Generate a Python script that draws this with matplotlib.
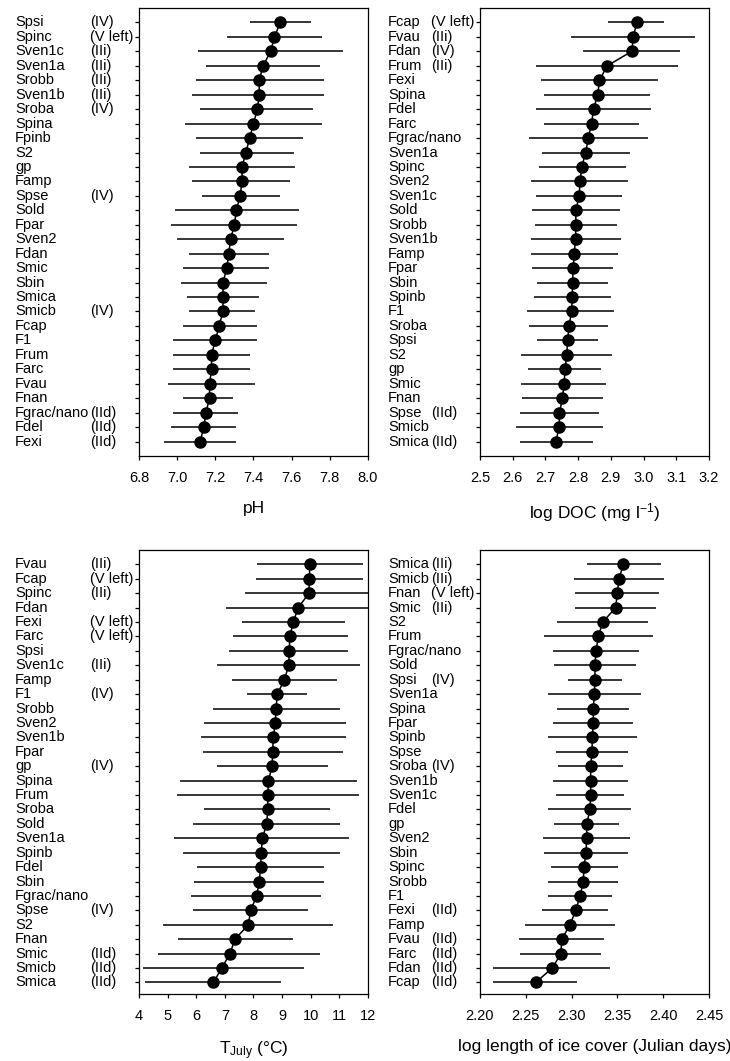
import matplotlib
matplotlib.use("Agg")
import matplotlib.pyplot as plt
import matplotlib.transforms as mtransforms
import numpy as np

plt.rcParams["font.family"] = ["Liberation Sans", "DejaVu Sans"]
plt.rcParams["mathtext.fontset"] = "custom"
plt.rcParams["mathtext.rm"] = "Liberation Sans"
plt.rcParams["mathtext.it"] = "Liberation Sans:italic"

# --- pH (top left), rows listed top to bottom ---
ph_names = ["Spsi", "Spinc", "Sven1c", "Sven1a", "Srobb", "Sven1b", "Sroba", "Spina",
            "Fpinb", "S2", "gp", "Famp", "Spse", "Sold", "Fpar", "Sven2", "Fdan", "Smic",
            "Sbin", "Smica", "Smicb", "Fcap", "F1", "Frum", "Farc", "Fvau", "Fnan",
            "Fgrac/nano", "Fdel", "Fexi"]
ph_groups = ["(IV)", "(V left)", "(IIi)", "(IIi)", "(IIi)", "(IIi)", "(IV)", "",
             "", "", "", "", "(IV)", "", "", "", "", "",
             "", "", "(IV)", "", "", "", "", "", "",
             "(IId)", "(IId)", "(IId)"]
ph_mean = [7.54, 7.51, 7.49, 7.45, 7.43, 7.43, 7.42, 7.40, 7.38, 7.36, 7.34, 7.34,
           7.33, 7.31, 7.30, 7.28, 7.27, 7.26, 7.24, 7.24, 7.24, 7.22, 7.20, 7.18,
           7.18, 7.17, 7.17, 7.15, 7.14, 7.12]
ph_low = [7.38, 7.26, 7.11, 7.15, 7.10, 7.08, 7.12, 7.04, 7.10, 7.12, 7.06, 7.08,
          7.13, 6.99, 6.97, 7.00, 7.06, 7.03, 7.02, 7.05, 7.06, 7.03, 6.98, 6.98,
          6.98, 6.95, 7.03, 6.98, 6.97, 6.93]
ph_high = [7.70, 7.76, 7.87, 7.75, 7.77, 7.77, 7.71, 7.76, 7.66, 7.61, 7.62, 7.59,
           7.54, 7.64, 7.63, 7.56, 7.48, 7.48, 7.47, 7.43, 7.41, 7.42, 7.42, 7.38,
           7.38, 7.41, 7.29, 7.32, 7.31, 7.31]

# --- log DOC (top right) ---
doc_names = ["Fcap", "Fvau", "Fdan", "Frum", "Fexi", "Spina", "Fdel", "Farc",
             "Fgrac/nano", "Sven1a", "Spinc", "Sven2", "Sven1c", "Sold", "Srobb",
             "Sven1b", "Famp", "Fpar", "Sbin", "Spinb", "F1", "Sroba", "Spsi", "S2",
             "gp", "Smic", "Fnan", "Spse", "Smicb", "Smica"]
doc_groups = ["(V left)", "(IIi)", "(IV)", "(IIi)", "", "", "", "",
              "", "", "", "", "", "", "",
              "", "", "", "", "", "", "", "", "",
              "", "", "", "(IId)", "", "(IId)"]
doc_mean = [2.979, 2.969, 2.964, 2.889, 2.865, 2.860, 2.847, 2.841, 2.831, 2.823,
            2.811, 2.806, 2.803, 2.793, 2.793, 2.792, 2.788, 2.785, 2.783, 2.782,
            2.780, 2.772, 2.768, 2.765, 2.760, 2.757, 2.752, 2.743, 2.742, 2.732]
doc_low = [2.890, 2.778, 2.816, 2.670, 2.686, 2.697, 2.670, 2.695, 2.650, 2.690,
           2.680, 2.655, 2.671, 2.660, 2.668, 2.655, 2.655, 2.658, 2.673, 2.665,
           2.645, 2.651, 2.675, 2.625, 2.648, 2.625, 2.627, 2.622, 2.610, 2.622]
doc_high = [3.063, 3.157, 3.111, 3.106, 3.045, 3.020, 3.022, 2.987, 3.013, 2.957,
            2.945, 2.953, 2.933, 2.928, 2.920, 2.930, 2.923, 2.908, 2.892, 2.900,
            2.911, 2.890, 2.862, 2.905, 2.869, 2.885, 2.875, 2.864, 2.875, 2.846]

# --- July temperature (bottom left) ---
tj_names = ["Fvau", "Fcap", "Spinc", "Fdan", "Fexi", "Farc", "Spsi", "Sven1c", "Famp",
            "F1", "Srobb", "Sven2", "Sven1b", "Fpar", "gp", "Spina", "Frum", "Sroba",
            "Sold", "Sven1a", "Spinb", "Fdel", "Sbin", "Fgrac/nano", "Spse", "S2",
            "Fnan", "Smic", "Smicb", "Smica"]
tj_groups = ["(IIi)", "(V left)", "(IIi)", "", "(V left)", "(V left)", "", "(IIi)", "",
             "(IV)", "", "", "", "", "(IV)", "", "", "",
             "", "", "", "", "", "", "(IV)", "",
             "", "(IId)", "(IId)", "(IId)"]
tj_mean = [9.97, 9.95, 9.94, 9.56, 9.39, 9.27, 9.25, 9.23, 9.08, 8.83, 8.79, 8.76,
           8.69, 8.67, 8.65, 8.52, 8.50, 8.50, 8.46, 8.31, 8.27, 8.25, 8.20, 8.11,
           7.90, 7.82, 7.35, 7.18, 6.89, 6.60]
tj_low = [8.11, 8.08, 7.70, 7.04, 7.61, 7.27, 7.15, 6.73, 7.26, 7.78, 6.57, 6.27,
          6.17, 6.25, 6.71, 5.43, 5.32, 6.28, 5.90, 5.23, 5.55, 6.04, 5.92, 5.82,
          5.88, 4.85, 5.37, 4.65, 4.15, 4.21]
tj_high = [11.81, 11.83, 12.4, 12.3, 11.20, 11.29, 11.31, 11.72, 10.91, 9.86, 11.02,
           11.23, 11.22, 11.11, 10.59, 11.60, 11.70, 10.67, 11.02, 11.35, 11.02, 10.46,
           10.47, 10.35, 9.89, 10.79, 9.37, 10.32, 9.75, 8.96]

# --- log length of ice cover (bottom right) ---
ice_names = ["Smica", "Smicb", "Fnan", "Smic", "S2", "Frum", "Fgrac/nano", "Sold",
             "Spsi", "Sven1a", "Spina", "Fpar", "Spinb", "Spse", "Sroba", "Sven1b",
             "Sven1c", "Fdel", "gp", "Sven2", "Sbin", "Spinc", "Srobb", "F1", "Fexi",
             "Famp", "Fvau", "Farc", "Fdan", "Fcap"]
ice_groups = ["(IIi)", "(IIi)", "(V left)", "(IIi)", "", "", "", "",
              "(IV)", "", "", "", "", "", "(IV)", "",
              "", "", "", "", "", "", "", "", "(IId)",
              "", "(IId)", "(IId)", "(IId)", "(IId)"]
ice_mean = [2.3565, 2.3517, 2.3499, 2.3481, 2.3340, 2.3292, 2.3266, 2.3255, 2.3255,
            2.3248, 2.3237, 2.3237, 2.3226, 2.3223, 2.3208, 2.3208, 2.3208, 2.3201,
            2.3165, 2.3165, 2.3157, 2.3135, 2.3128, 2.3092, 2.3045, 2.2983, 2.2892,
            2.2884, 2.2789, 2.2608]
ice_low = [2.3165, 2.3030, 2.3037, 2.3037, 2.2844, 2.2702, 2.2800, 2.2808, 2.2964,
           2.2746, 2.2844, 2.2800, 2.2746, 2.2830, 2.2855, 2.2793, 2.2826, 2.2746,
           2.2808, 2.2691, 2.2702, 2.2772, 2.2746, 2.2746, 2.2673, 2.2491, 2.2429,
           2.2437, 2.2145, 2.2145]
ice_high = [2.3976, 2.4010, 2.3954, 2.3918, 2.3837, 2.3885, 2.3736, 2.3703, 2.3547,
            2.3754, 2.3627, 2.3674, 2.3711, 2.3619, 2.3565, 2.3619, 2.3572, 2.3645,
            2.3521, 2.3638, 2.3612, 2.3503, 2.3510, 2.3444, 2.3394, 2.3474, 2.3357,
            2.3321, 2.3419, 2.3056]

W, H = 730, 1061
fig = plt.figure(figsize=(W / 100, H / 100), dpi=100, facecolor="white")


def panel(rect_px, names, groups, mean, low, high, xlim, xticks, xfmt, xlabel,
          name_x, group_x, ylim):
    x0, y0, x1, y1 = rect_px
    ax = fig.add_axes([x0 / W, 1 - y1 / H, (x1 - x0) / W, (y1 - y0) / H])
    n = len(names)
    ypos = np.arange(n, 0, -1)
    ax.hlines(ypos, low, high, color="black", lw=1.1, zorder=2)
    ax.plot(mean, ypos, color="black", lw=1.1, zorder=3)
    ax.plot(mean, ypos, "o", color="black", ms=8, zorder=4)
    ax.set_xlim(*xlim)
    ax.set_ylim(*ylim)
    ax.set_xticks(xticks)
    ax.set_xticklabels([xfmt.format(t) for t in xticks], fontsize=10.5)
    ax.set_yticks(ypos)
    ax.set_yticklabels([])
    ax.tick_params(axis="both", direction="out", length=3, width=0.9, pad=7.5)
    for sp in ax.spines.values():
        sp.set_linewidth(0.9)
    ax.set_xlabel(xlabel, fontsize=12.5, labelpad=12)
    trans = mtransforms.blended_transform_factory(fig.transFigure, ax.transData)
    for yv, nm, gr in zip(ypos, names, groups):
        ax.text(name_x / W, yv, nm, transform=trans, ha="left", va="center",
                fontsize=10.5, clip_on=False)
        if gr:
            ax.text(group_x / W, yv, gr, transform=trans, ha="left", va="center",
                    fontsize=10.5, clip_on=False)
    return ax


panel((139, 8, 368, 456), ph_names, ph_groups, ph_mean, ph_low, ph_high,
      (6.8, 8.0), [6.8, 7.0, 7.2, 7.4, 7.6, 7.8, 8.0], "{:.1f}", "pH",
      15, 90, (0, 31))
panel((480, 8, 709, 456), doc_names, doc_groups, doc_mean, doc_low, doc_high,
      (2.5, 3.2), [2.5, 2.6, 2.7, 2.8, 2.9, 3.0, 3.1, 3.2], "{:.1f}",
      r"log DOC (mg l$^{-1}$)", 388, 431, (0, 31))
panel((139, 550, 368, 994), tj_names, tj_groups, tj_mean, tj_low, tj_high,
      (4, 12), list(range(4, 13)), "{:d}", r"T$_{\mathrm{July}}$ (°C)",
      15, 90, (0.2, 31))
panel((480, 550, 709, 994), ice_names, ice_groups, ice_mean, ice_low, ice_high,
      (2.20, 2.45), [2.20, 2.25, 2.30, 2.35, 2.40, 2.45], "{:.2f}",
      "log length of ice cover (Julian days)", 388, 431, (0.2, 31))

fig.savefig("out.png", dpi=100, facecolor="white")
